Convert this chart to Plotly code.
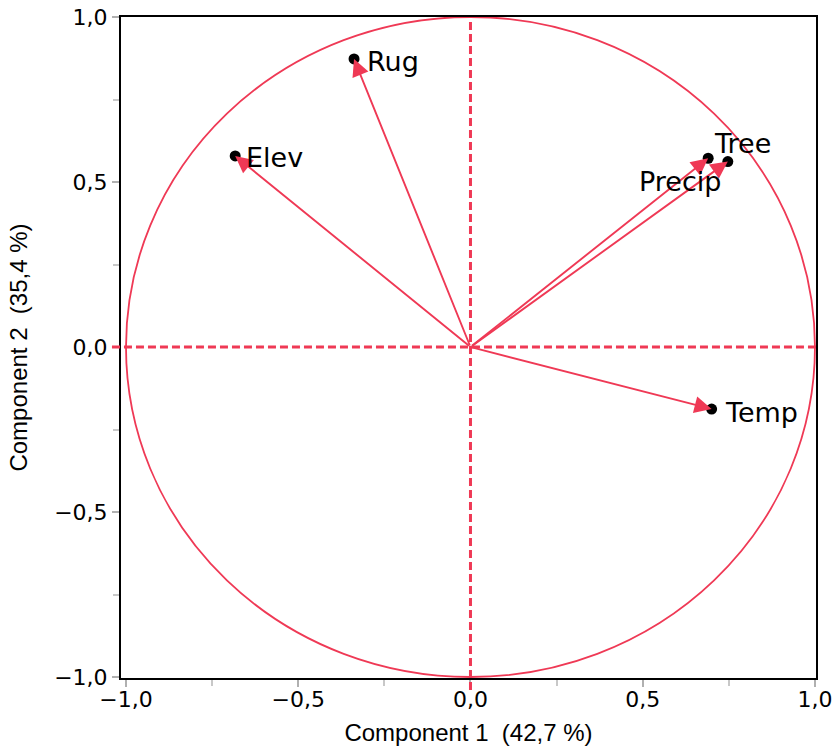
import plotly.graph_objects as go

variables = ["Rug", "Elev", "Tree", "Precip", "Temp"]
comp1 = [-0.338, -0.683, 0.747, 0.690, 0.700]
comp2 = [0.873, 0.579, 0.562, 0.572, -0.188]

tick_vals = [-1.0, -0.5, 0.0, 0.5, 1.0]
tick_text = ["−1,0", "−0,5", "0,0", "0,5", "1,0"]

# label placement (anchor, xshift, yshift) per variable
label_pos = {
    "Rug": ("left", 11, -3),
    "Elev": ("left", 9, -2),
    "Tree": ("center", 15, 18),
    "Precip": ("center", -28, -23),
    "Temp": ("left", 11, -3),
}

RED = "#ef3955"
TITLE_FONT = dict(family="Liberation Sans, Arial, Helvetica", size=24, color="black")
fig = go.Figure()

fig.add_trace(go.Scatter(x=comp1, y=comp2, mode="markers",
                         marker=dict(color="black", size=11),
                         hoverinfo="skip", showlegend=False))

shapes = [
    dict(type="circle", xref="x", yref="y", x0=-1, y0=-1, x1=1, y1=1,
         line=dict(color=RED, width=1.8), layer="below"),
    dict(type="line", xref="paper", yref="y", x0=-0.013, x1=1, y0=0, y1=0,
         line=dict(color=RED, width=3, dash="8px,4px")),
    dict(type="line", xref="x", yref="paper", x0=0, x1=0, y0=-0.018, y1=1,
         line=dict(color=RED, width=3, dash="8px,4px")),
]

annotations = []
for name, x, y in zip(variables, comp1, comp2):
    annotations.append(dict(x=x, y=y, ax=0, ay=0, xref="x", yref="y",
                            axref="x", ayref="y", text="", showarrow=True,
                            arrowhead=2, arrowsize=1.8, arrowwidth=1.9,
                            arrowcolor=RED, standoff=0))
    anchor, xs, ys = label_pos[name]
    annotations.append(dict(x=x, y=y, xref="x", yref="y", text=name,
                            showarrow=False, xanchor=anchor, yanchor="middle",
                            xshift=xs, yshift=ys,
                            font=dict(family="DejaVu Sans", size=27, color="black")))

axis_common = dict(
    tickvals=tick_vals, ticktext=tick_text, ticks="outside", ticklen=7,
    tickwidth=2, tickcolor="#b0b0b0", showgrid=False, zeroline=False,
    showline=True, linecolor="black", linewidth=2, mirror=True,
    automargin=False, ticklabeloverflow="allow",
    tickfont=dict(family="DejaVu Sans", size=22, color="black"),
    minor=dict(tickvals=[-0.75, -0.25, 0.25, 0.75], ticks="outside",
               ticklen=6, tickwidth=1.5, tickcolor="#c8c8c8"),
)

fig.update_layout(
    width=835, height=753,
    margin=dict(l=121, r=19, t=17, b=75, autoexpand=False),
    paper_bgcolor="white", plot_bgcolor="white",
    shapes=shapes, annotations=annotations,
    xaxis=dict(range=[-1.0145, 1.003], **axis_common, ticklabelstandoff=-6,
               title=dict(text="Component 1\u00a0\u00a0(42,7 %)", standoff=13,
                          font=TITLE_FONT)),
    yaxis=dict(range=[-1.003, 1.0], **axis_common,
               title=dict(text="Component 2\u00a0\u00a0(35,4 %)", standoff=20,
                          font=TITLE_FONT)),
)

fig.write_html("out.html", config={"displayModeBar": False},
               post_script="document.body.style.margin='0';")
